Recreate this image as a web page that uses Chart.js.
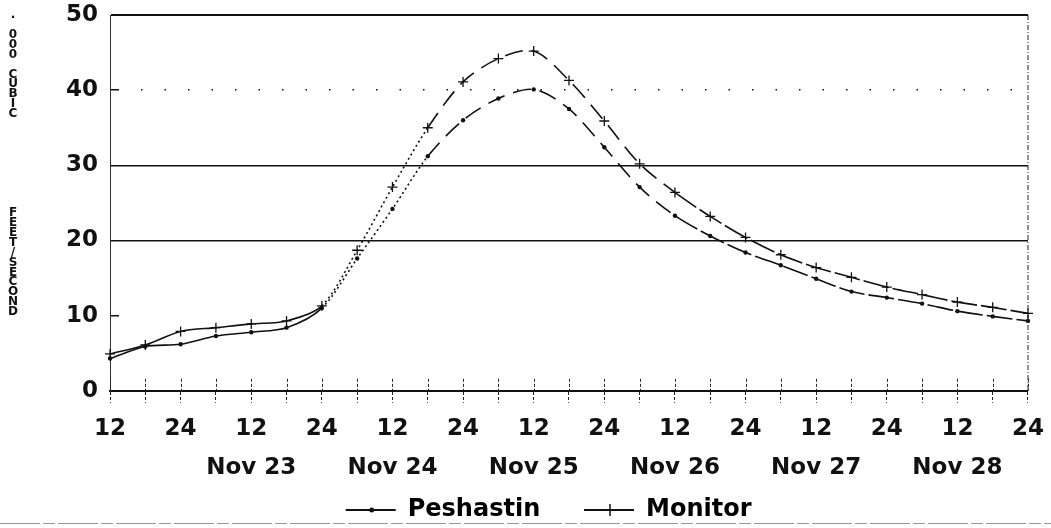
<!DOCTYPE html>
<html>
<head>
<meta charset="utf-8">
<script src="https://cdn.jsdelivr.net/npm/chart.js@4.4.1/dist/chart.umd.min.js"></script>
<style>
  body { margin: 0; background: #fff; }
  canvas { display: block; }
</style>
</head>
<body>
<canvas id="flow" width="1051" height="528"></canvas>
<script>
// readings every 6 hours, Nov 22 12:00 -> Nov 28 24:00
const times = [
  'Nov 22 12:00', 'Nov 22 18:00',
  'Nov 23 00:00', 'Nov 23 06:00', 'Nov 23 12:00', 'Nov 23 18:00',
  'Nov 24 00:00', 'Nov 24 06:00', 'Nov 24 12:00', 'Nov 24 18:00',
  'Nov 25 00:00', 'Nov 25 06:00', 'Nov 25 12:00', 'Nov 25 18:00',
  'Nov 26 00:00', 'Nov 26 06:00', 'Nov 26 12:00', 'Nov 26 18:00',
  'Nov 27 00:00', 'Nov 27 06:00', 'Nov 27 12:00', 'Nov 27 18:00',
  'Nov 28 00:00', 'Nov 28 06:00', 'Nov 28 12:00', 'Nov 28 18:00',
  'Nov 29 00:00'
]
const hourLabels = ['12', '', '24', '', '12', '', '24', '', '12', '', '24', '', '12', '',
                    '24', '', '12', '', '24', '', '12', '', '24', '', '12', '', '24']
const dayLabels = ['', '', '', '', 'Nov 23', '', '', '', 'Nov 24', '', '', '', 'Nov 25', '',
                   '', '', 'Nov 26', '', '', '', 'Nov 27', '', '', '', 'Nov 28', '', '']

const peshastin = [4.3, 5.9, 6.2, 7.3, 7.8, 8.4, 11.0, 17.6, 24.2, 31.2, 36.0, 38.9, 40.1, 37.5,
                   32.4, 27.1, 23.3, 20.6, 18.4, 16.7, 14.9, 13.2, 12.4, 11.6, 10.6, 9.9, 9.3]
const monitor = [4.9, 6.1, 7.9, 8.4, 8.9, 9.3, 11.3, 18.7, 27.1, 35.0, 41.1, 44.2, 45.2, 41.3,
                 35.9, 30.2, 26.4, 23.2, 20.4, 18.1, 16.4, 15.1, 13.8, 12.8, 11.8, 11.1, 10.3]

const yTitle = '. 000 CUBIC         FEET/SECOND'
const ink = '#111'
const fontFamily = '"DejaVu Sans", "Liberation Sans", sans-serif'

// line style changes along the curve, like the plotter output
const segDash = c => {
  const i = c.p0DataIndex
  if (i < 6) return []
  if (i < 9) return [2, 3]
  if (i < 16) return [18, 9]
  return [26, 4]
}

const gridDash = v => {
  if (v === 40) return [8, ...Array(80).fill([22, 1.5]).flat()]
  if (v === 10) return [8, 3000]
  return []
}

const framePlugin = {
  id: 'frame',
  beforeDatasetsDraw(chart) {
    const { ctx, chartArea: a, scales: { x } } = chart
    ctx.save()
    ctx.strokeStyle = '#222'
    ctx.lineWidth = 1
    // right border
    ctx.setLineDash([5, 2, 1, 2])
    ctx.beginPath()
    ctx.moveTo(a.right, a.top)
    ctx.lineTo(a.right, a.bottom)
    ctx.stroke()
    // tick marks above the zero line
    ctx.setLineDash([3, 2])
    x.ticks.forEach((t, i) => {
      const px = Math.round(x.getPixelForTick(i)) + 0.5
      ctx.beginPath()
      ctx.moveTo(px, a.bottom - 12)
      ctx.lineTo(px, a.bottom)
      ctx.stroke()
    })
    ctx.restore()
  },
  afterDraw(chart) {
    const { ctx, width } = chart
    ctx.save()
    // stacked y title
    ctx.fillStyle = ink
    ctx.font = 'bold 12px ' + fontFamily
    ctx.textAlign = 'center'
    ctx.textBaseline = 'middle'
    yTitle.split('').forEach((ch, i) => ctx.fillText(ch, 13, 15 + i * 9.9))
    // legend markers on the sample lines
    const lg = chart.legend
    if (lg && lg.legendHitBoxes) {
      lg.legendHitBoxes.forEach((b, i) => {
        const cx = b.left + 26
        const cy = b.top + b.height / 2
        ctx.strokeStyle = ink
        ctx.fillStyle = ink
        ctx.lineWidth = 1.5
        if (i === 0) {
          ctx.beginPath()
          ctx.arc(cx, cy, 2.5, 0, Math.PI * 2)
          ctx.fill()
        } else {
          ctx.beginPath()
          ctx.moveTo(cx, cy - 6)
          ctx.lineTo(cx, cy + 6)
          ctx.stroke()
        }
      })
    }
    // page rule under the legend
    ctx.strokeStyle = '#999'
    ctx.lineWidth = 1
    ctx.setLineDash([40, 3, 12, 3])
    ctx.beginPath()
    ctx.moveTo(0, 523.5)
    ctx.lineTo(width, 523.5)
    ctx.stroke()
    ctx.restore()
  }
}

new Chart(document.getElementById('flow'), {
  type: 'line',
  data: {
    labels: times,
    datasets: [
      {
        label: 'Peshastin',
        data: peshastin,
        borderColor: ink,
        backgroundColor: ink,
        borderWidth: 1.6,
        tension: 0.3,
        pointStyle: 'circle',
        pointRadius: 2.2,
        pointBorderWidth: 0,
        segment: { borderDash: segDash }
      },
      {
        label: 'Monitor',
        data: monitor,
        borderColor: ink,
        backgroundColor: ink,
        borderWidth: 1.6,
        tension: 0.3,
        pointStyle: 'cross',
        pointRadius: 5,
        pointBorderWidth: 1.3,
        segment: { borderDash: segDash }
      }
    ]
  },
  options: {
    responsive: false,
    animation: false,
    layout: { padding: { top: 15, left: 55, right: 21, bottom: -4 } },
    plugins: {
      tooltip: { enabled: false },
      legend: {
        position: 'bottom',
        fullSize: false,
        labels: {
          color: ink,
          font: { family: fontFamily, size: 24, weight: 'bold' },
          boxWidth: 50,
          boxHeight: 2,
          padding: 3,
          // trailing spaces give the wide gaps of the original key
          generateLabels: chart => chart.data.datasets.map((ds, i) => ({
            text: ds.label + '\u2003\u2002\u2009',
            fillStyle: ink,
            strokeStyle: ink,
            lineWidth: 0,
            hidden: false,
            datasetIndex: i
          }))
        }
      }
    },
    scales: {
      x: {
        ticks: {
          autoSkip: false,
          maxRotation: 0,
          padding: 7,
          color: ink,
          font: { family: fontFamily, size: 23, weight: 'bold', lineHeight: 1.7 },
          callback: (v, i) => [hourLabels[i], dayLabels[i]]
        },
        grid: {
          drawOnChartArea: false,
          tickLength: 12,
          tickColor: '#222',
          tickWidth: 1,
          tickBorderDash: [3, 2]
        },
        border: { display: true, color: ink, width: 2 }
      },
      y: {
        min: 0,
        max: 50,
        afterFit: s => { s.width = 55 },
        ticks: {
          stepSize: 10,
          padding: 0,
          color: ink,
          font: { family: fontFamily, size: 23, weight: 'bold' }
        },
        grid: {
          drawTicks: true,
          tickLength: 12,
          tickColor: 'rgba(0,0,0,0)',
          color: ink,
          lineWidth: c => (c.tick && (c.tick.value === 0 || c.tick.value === 50)) ? 2 : 1.5
        },
        border: {
          display: true,
          color: '#333',
          width: 1,
          dash: c => c.tick ? gridDash(c.tick.value) : [5, 2, 1, 2]
        }
      }
    }
  },
  plugins: [framePlugin]
})
</script>
</body>
</html>
